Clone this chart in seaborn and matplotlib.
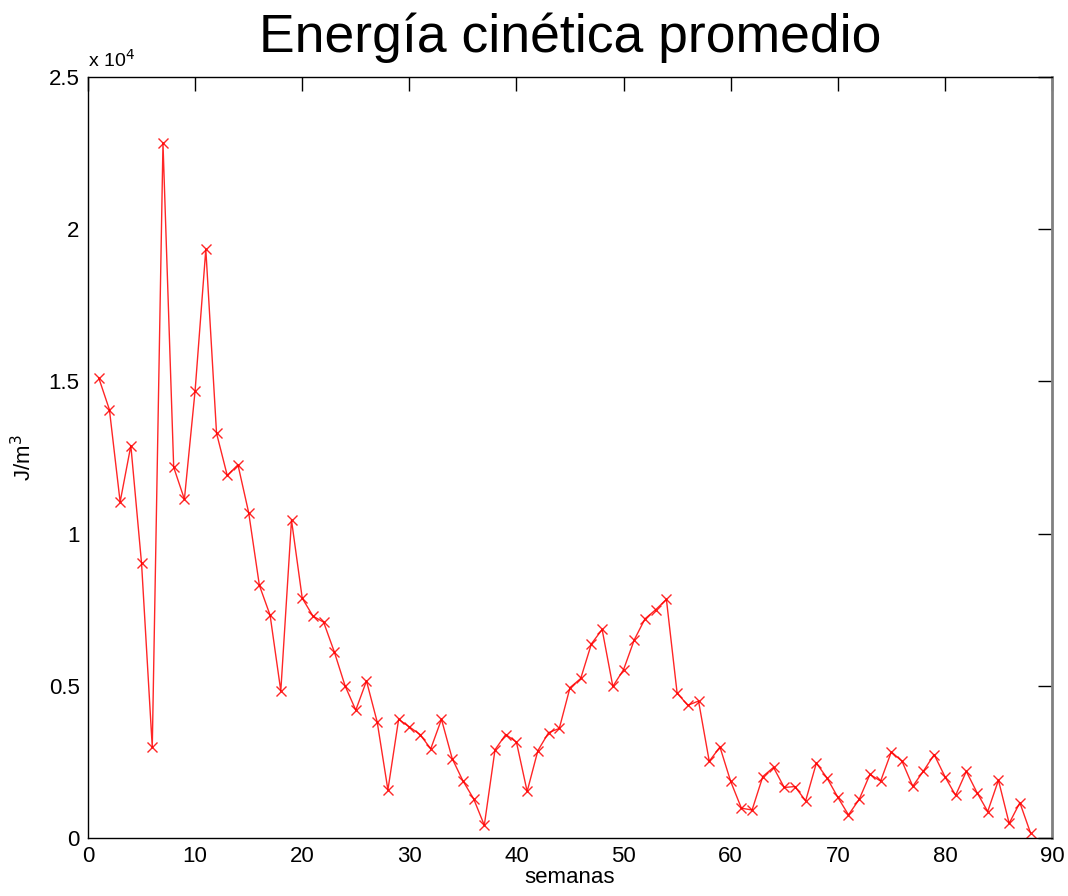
import matplotlib
matplotlib.use('Agg')
import matplotlib.pyplot as plt
import numpy as np
import seaborn as sns
from matplotlib.ticker import FuncFormatter

# semanas 1..88
semanas = list(range(1, 89))
# energia cinetica promedio (J/m^3)
energia = [
    15120, 14070, 11040, 12890, 9020, 2980, 22830, 12180, 11130, 14700,
    19340, 13300, 11910, 12260, 10690, 8300, 7320, 4830, 10440, 7880,
    7290, 7090, 6110, 5000, 4200, 5160, 3810, 1580, 3900, 3650,
    3400, 2930, 3900, 2610, 1880, 1290, 420, 2900, 3400, 3150,
    1530, 2870, 3460, 3600, 4940, 5240, 6380, 6850, 4980, 5530,
    6510, 7200, 7500, 7840, 4760, 4360, 4500, 2520, 2990, 1860,
    980, 920, 2020, 2320, 1660, 1690, 1220, 2460, 1970, 1340,
    760, 1270, 2090, 1870, 2830, 2520, 1700, 2200, 2740, 2020,
    1400, 2190, 1490, 870, 1900, 480, 1160, 160,
]

sns.set_style('white')
plt.rcParams['font.family'] = ['Liberation Sans', 'DejaVu Sans']
plt.rcParams['text.color'] = 'black'
plt.rcParams['axes.labelcolor'] = 'black'

fig = plt.figure(figsize=(10.68, 8.96), dpi=100)
ax = fig.add_axes([88/1068, 58/896, 964/1068, 761/896])

sns.lineplot(x=semanas, y=energia, ax=ax, color='red', linewidth=1.0,
             marker='x', markersize=7, markeredgecolor='red',
             markeredgewidth=1.0, alpha=0.85)

ax.set_xlim(0, 90)
ax.set_ylim(0, 25000)
ax.set_xticks(np.arange(0, 91, 10))
ax.set_yticks(np.arange(0, 25001, 5000))
ax.yaxis.set_major_formatter(FuncFormatter(lambda v, p: '{:g}'.format(v / 1e4)))

ax.tick_params(direction='in', length=10, width=1, top=True, right=True,
               labelsize=16, pad=6, colors='black')
for s in ax.spines.values():
    s.set_visible(True)
    s.set_color('black')
    s.set_linewidth(1.0)
ax.spines['right'].set_color('#808080')
ax.spines['right'].set_linewidth(2)

ax.set_xlabel('semanas', fontsize=16, labelpad=0)
ax.set_ylabel('J/m$^3$', fontsize=16, labelpad=9)
ax.text(0, 1.008, 'x 10$^4$', transform=ax.transAxes, fontsize=14,
        ha='left', va='bottom')
fig.text(0.534, 0.958, 'Energía cinética promedio', fontsize=38.5,
         ha='center', va='center')

fig.savefig('out.png', dpi=100)
